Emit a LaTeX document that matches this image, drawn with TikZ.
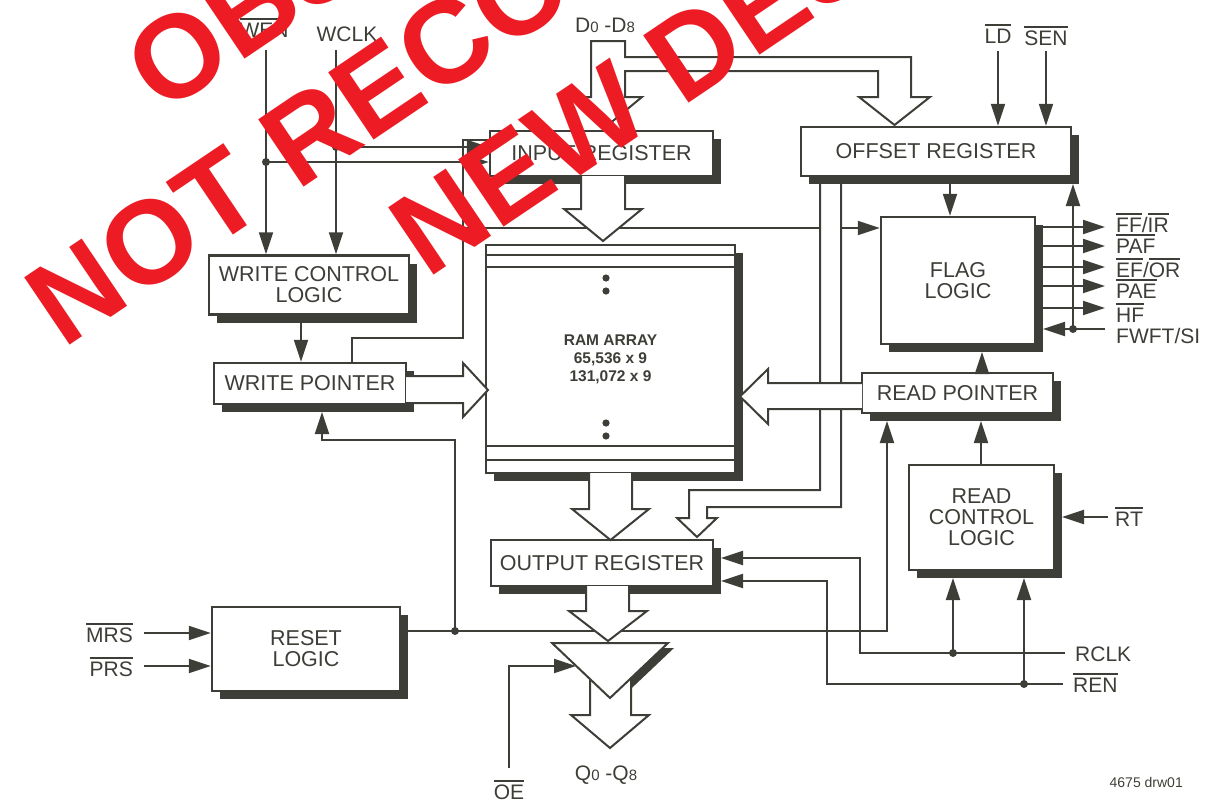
\documentclass[tikz,border=0pt]{standalone}
\usepackage{fontspec}
\setmainfont{Liberation Sans}
\usetikzlibrary{arrows.meta,shadows,positioning}
\definecolor{ink}{RGB}{62,62,56}
\definecolor{stamp}{RGB}{237,28,36}
\newcommand{\ovl}[1]{\vbox{\hrule height 1.6pt\kern 2.6pt\hbox{#1}}}
\newcommand{\sm}[1]{{\fontsize{15}{15}\selectfont #1}}
\newcommand{\boxfont}{\fontsize{21.5}{21}\selectfont}
\newcommand{\pinfont}{\fontsize{21}{21}\selectfont}
\newcommand{\ramfont}{\fontsize{15.5}{18}\selectfont\bfseries}
\tikzset{
  block/.style={draw=ink, line width=2.4pt, fill=white, text=ink, align=center, inner sep=0pt,
    font=\boxfont, drop shadow={shadow xshift=8pt, shadow yshift=-8pt, fill=ink, opacity=1}},
  wire/.style={draw=ink, line width=2pt},
  sig/.style={wire, -{Triangle[length=22pt,width=14pt]}},
  bus/.style={draw=ink, line width=2pt, fill=white, line join=miter},
  pin/.style={text=ink, font=\pinfont, inner sep=0pt},
  dot/.style={circle, fill=ink, inner sep=0pt, minimum size=8pt}
}

\begin{document}
\begin{tikzpicture}[x=1pt, y=-1pt]
    \useasboundingbox (0,0) rectangle (1209,803);

    % blocks
    \node[block, minimum width=223pt, minimum height=45pt] (inreg) at (601.5,153.5) {INPUT REGISTER};
    \node[block, minimum width=270pt, minimum height=49pt] (offreg) at (936,151.5) {OFFSET REGISTER};
    \node[block, minimum width=200pt, minimum height=59pt] (wcl) at (309,285) {WRITE CONTROL\\LOGIC};
    \node[block, minimum width=192pt, minimum height=41pt] (wptr) at (310,383.5) {WRITE POINTER};
    \node[block, minimum width=249pt, minimum height=228pt, font=\ramfont] (ram) at (610.5,359) {RAM ARRAY\\65,536 x 9\\131,072 x 9};
    \node[block, minimum width=154pt, minimum height=127pt] (flag) at (958,280.5) {FLAG\\LOGIC};
    \node[block, minimum width=191pt, minimum height=40pt] (rptr) at (957.5,393) {READ POINTER};
    \node[block, minimum width=145pt, minimum height=105pt] (rcl) at (981.5,517.5) {READ\\CONTROL\\LOGIC};
    \node[block, minimum width=222pt, minimum height=46pt] (outreg) at (602,563) {OUTPUT REGISTER};
    \node[block, minimum width=188pt, minimum height=84pt] (reset) at (306,649) {RESET\\LOGIC};

    % ram rows
    \foreach \dy in {11,23} \draw[wire] ([yshift=-\dy pt]ram.north west) -- ([yshift=-\dy pt]ram.north east);
    \foreach \dy in {14,28} \draw[wire] ([yshift=\dy pt]ram.south west) -- ([yshift=\dy pt]ram.south east);
    \foreach \y in {278,291,423,436} \fill[ink] (606,\y) circle (3.6pt);

    % pins
    \node[pin, anchor=base] (wenl) at (264,37) {\ovl{WEN}};
    \node[pin, anchor=base] (wclkl) at (347,41) {WCLK};
    \node[pin, anchor=base] (dinl) at (605,32) {D\sm{0} -D\sm{8}};
    \node[pin, anchor=base] (ldl) at (998,43) {\ovl{LD}};
    \node[pin, anchor=base] (senl) at (1046,45) {\ovl{SEN}};
    \node[pin, anchor=base west] (ffl) at (1116,232) {\ovl{FF}/\ovl{IR}};
    \node[pin, anchor=base west] (pafl) at (1116,253) {\ovl{PAF}};
    \node[pin, anchor=base west] (efl) at (1116,277) {\ovl{EF}/\ovl{OR}};
    \node[pin, anchor=base west] (pael) at (1116,298) {\ovl{PAE}};
    \node[pin, anchor=base west] (hfl) at (1116,322) {\ovl{HF}};
    \node[pin, anchor=base west] (fwftl) at (1116,343) {FWFT/SI};
    \node[pin, anchor=base west] (rtl) at (1115,526) {\ovl{RT}};
    \node[pin, anchor=base west] (rclkl) at (1075,661) {RCLK};
    \node[pin, anchor=base west] (renl) at (1073,692) {\ovl{REN}};
    \node[pin, anchor=base east] (mrsl) at (133,642) {\ovl{MRS}};
    \node[pin, anchor=base east] (prsl) at (133,676) {\ovl{PRS}};
    \node[pin, anchor=base] (oel) at (509,799) {\ovl{OE}};
    \node[pin, anchor=base] (qoutl) at (606,780) {Q\sm{0} -Q\sm{8}};
    \node[pin, anchor=base east, font=\fontsize{14}{14}\selectfont] (drw) at (1183,787) {4675 drw01};

    % write side
    \coordinate (wen) at (266,50);
    \coordinate (wclk) at (336,50);
    \coordinate (wenj) at (266,162);
    \coordinate (wclkj) at (336,147);
    \draw[sig] (wen) -- (wen |- wcl.north);
    \draw[sig] (wclk) -- (wclk |- wcl.north);
    \draw[sig] (wenj) -- (wenj -| inreg.west);
    \draw[sig] (wclkj) -- (wclkj -| inreg.west);
    \node[dot] (wendot) at (wenj) {};
    \node[dot] (wclkdot) at (wclkj) {};
    \draw[sig] (301,322) -- (301,0 |- wptr.north);
    \draw[wire] (352,0 |- wptr.north) -- (352,338) -| (463,140) -- (inreg.west |- 463,140);
    \draw[sig] (463,228) -- (flag.west |- 463,228);

    % reset
    \coordinate (rj) at (455,631);
    \draw[sig] (144,633) -- (reset.west |- 144,633);
    \draw[sig] (144,666) -- (reset.west |- 144,666);
    \draw[sig] (reset.east |- rj) -- (887,631) -- (887,421);
    \draw[sig] (rj) -- (455,440) -| (322,412);
    \node[dot] (rdot) at (rj) {};

    % offset and flags
    \draw[sig] (ldl.south |- 0,51) -- (ldl.south |- offreg.north);
    \draw[sig] (senl.south |- 0,51) -- (senl.south |- offreg.north);
    \draw[sig] (950,184) -- (950,0 |- flag.north);
    \foreach \y in {227,246,267,286,308} \draw[sig] (1043,\y) -- (1105,\y);
    \draw[sig] (1105,329) -- (1043,329);
    \draw[sig] (1073,329) -- (1073,184);
    \node[dot] (fwftdot) at (1073,329) {};
    \draw[sig] (982,0 |- rptr.north) -- (982,352);
    \draw[sig] (981,0 |- rcl.north) -- (981,421);

    % read side
    \coordinate (rclk) at (1065,653);
    \coordinate (ren) at (1063,684);
    \draw[sig] (1108,517) -- (1062,517);
    \draw[sig] (rclk) -- (860,653) -- (860,558) -- (721,558);
    \draw[sig] (ren) -- (827,684) -- (827,581) -- (721,581);
    \draw[sig] (953,653) -- (953,578);
    \draw[sig] (1024,684) -- (1024,578);
    \node[dot] (rclkdot) at (953,653) {};
    \node[dot] (rendot) at (1024,684) {};
    \draw[sig] (509,768) -- (509,666) -- (576,666);

    % buses
    \filldraw[bus] (591,41) -- (625,41) -- (625,57) -- (911,57) -- (911,97) -- (930,97) -- (894.5,125)
        -- (859,97) -- (878,97) -- (878,71) -- (625,71) -- (625,97) -- (642,97) -- (608,125) -- (574,97) -- (591,97) -- cycle;
    \filldraw[bus] (581,176) -- (581,209) -- (564,209) -- (603,241) -- (642,209) -- (625,209) -- (625,176);
    \filldraw[bus] (406,376) -- (463,376) -- (463,363) -- (488,390) -- (463,417) -- (463,403) -- (406,403);
    \filldraw[bus] (820,184) -- (820,490) -- (689,490) -- (689,518) -- (677,518) -- (697,537) -- (717,518)
        -- (707,518) -- (707,507) -- (841,507) -- (841,184);
    \filldraw[bus] (862,383) -- (768,383) -- (768,369) -- (740,396.5) -- (768,424) -- (768,409) -- (862,409);
    \filldraw[bus] (589,473) -- (589,509) -- (572,509) -- (610.5,540) -- (649,509) -- (632,509) -- (632,473);
    \filldraw[bus] (586,586) -- (586,611) -- (569,611) -- (608,641) -- (647,611) -- (629,611) -- (629,586);

    % output buffer
    \fill[ink] (558,648) -- (674,648) -- (616,703) -- cycle;
    \filldraw[bus] (590,668) -- (590,715) -- (571,715) -- (610,748) -- (649,715) -- (631,715) -- (631,668);
    \filldraw[bus, line join=miter] (552,643) -- (668,643) -- (610,698) -- cycle;

    % stamp
    \begin{scope}
        \clip (0,0) rectangle (1209,803);
        \node[anchor=base, rotate=34, text=stamp, inner sep=0pt, font=\fontsize{118}{118}\selectfont\bfseries] (stamp1) at (607,-185) {OBSOLETE PARTS};
        \node[anchor=base, rotate=34, text=stamp, inner sep=0pt, font=\fontsize{118}{118}\selectfont\bfseries] (stamp2) at (691.2,-73.9) {NOT RECOMMENDED FOR};
        \node[anchor=base, rotate=34, text=stamp, inner sep=0pt, font=\fontsize{118}{118}\selectfont\bfseries] (stamp3) at (775,45) {NEW DESIGNS};
    \end{scope}
\end{tikzpicture}
\end{document}
